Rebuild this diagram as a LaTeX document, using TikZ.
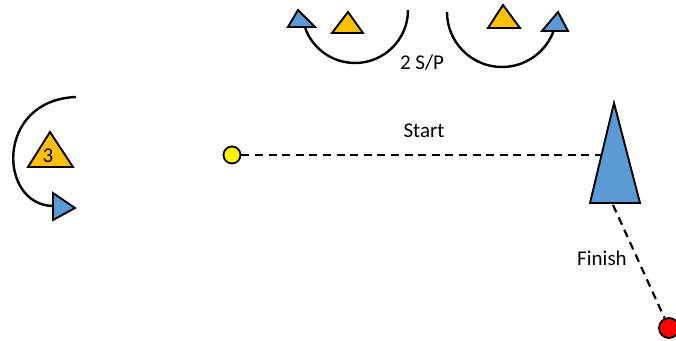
\documentclass[tikz,border=0pt]{standalone}
\usepackage{fontspec}
\setmainfont{Carlito}
\definecolor{buoyblue}{RGB}{91,155,213}
\definecolor{buoygold}{RGB}{255,192,0}
\begin{document}
\begin{tikzpicture}[x=0.5pt, y=-0.5pt,
    font=\fontsize{10.5}{12}\selectfont,
    buoy/.style={draw=black, line width=0.95pt, line join=miter},
    turnarc/.style={draw=black, line width=1.2pt},
    course/.style={line width=1.1pt, dash pattern=on 4pt off 2.8pt},
    pin/.style={circle, draw=black, line width=0.9pt, inner sep=0pt, minimum size=8.5pt}]
    \useasboundingbox (0,0) rectangle (676,341);
    % 2 S/P gate
    \draw [turnarc] (408,10) arc (0:160:53);
    \draw [turnarc] (447,12) arc (180:19:55);
    \filldraw [buoy, fill=buoyblue] (288,27) -- (315,27) -- (298,10) -- cycle;
    \filldraw [buoy, fill=buoygold] (332,33) -- (363,33) -- (348,12) -- cycle;
    \filldraw [buoy, fill=buoygold] (488,28) -- (520,28) -- (503,5) -- cycle;
    \filldraw [buoy, fill=buoyblue] (542,31) -- (568,31) -- (558,12) -- cycle;
    \node (gatelabel) at (422,63) {2 S/P};
    % mark 3
    \draw [turnarc] (76,97) .. controls (-5,100) and (-2,205) .. (53,206);
    \filldraw [buoy, fill=buoygold] (28,167) -- (73,167) -- (50,132) -- cycle;
    \node (three) at (48,156) {3};
    \filldraw [buoy, fill=buoyblue] (53,193) -- (53,220) -- (75,208) -- cycle;
    % start / finish
    \filldraw [buoy, fill=buoyblue] (614,103) -- (640,203) -- (590,203) -- cycle;
    \coordinate (boatside) at (601.5,155);
    \coordinate (boatfoot) at (613,205);
    \node [pin, fill=yellow] (pinend) at (232,155) {};
    \node [pin, fill=red, minimum size=10pt] (finishmark) at (669,328) {};
    \draw [course] (pinend) -- (boatside);
    \draw [course] (boatfoot) -- (finishmark);
    \node (startlabel) at (424,131) {Start};
    \node (finishlabel) at (602,258) {Finish};
\end{tikzpicture}
\end{document}
